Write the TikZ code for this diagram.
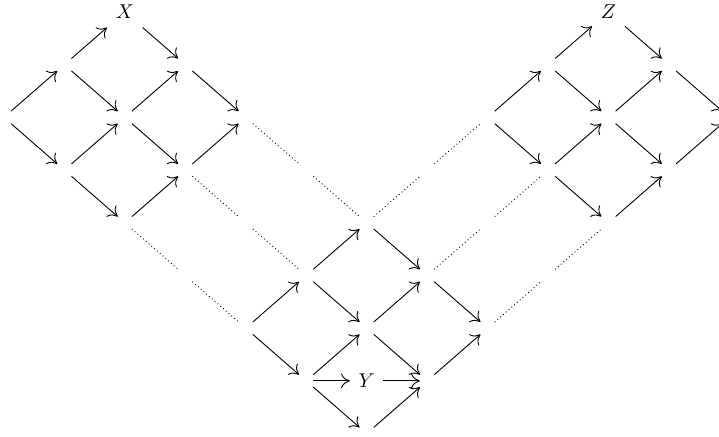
\documentclass[tikz,border=0pt]{standalone}
\usepackage{tikz}
\usetikzlibrary{arrows.meta, calc}

\begin{document}
\begin{tikzpicture}[
    x=0.5pt, y=-0.5pt,
    cell/.style={inner xsep=3.4pt, inner ysep=2.9pt, minimum size=0pt},
    obj/.style={inner xsep=4.2pt, inner ysep=4.3pt},
    panah/.style={line width=0.45pt, -{Computer Modern Rightarrow[length=4.4pt, width=7.4pt]}},
    titik/.style={line width=0.45pt, dash pattern=on 0.45pt off 1.4pt}
  ]
    \useasboundingbox (0,0) rectangle (719,437);
    % grid of empty cells
    \foreach \r in {0,...,8}{
      \foreach \c in {0,...,12}{
        \pgfmathtruncatemacro\s{\r+\c}
        \ifodd\s\else
          \node[cell] (n\r-\c) at ({3.9+60.46*\c},{12+52.7*\r}) {};
        \fi
      }
    }
    \node[obj] (X) at (n0-2) {$X$};
    \node[obj] (Z) at (n0-10) {$Z$};
    \node[obj] (Y) at ($(n7-5)!0.5!(n7-7)$) {$Y$};
    % left part
    \foreach \a/\b in {n2-0/n1-1, n2-0/n3-1, n1-1/X, n1-1/n2-2, n3-1/n2-2, n3-1/n4-2,
                       X/n1-3, n2-2/n1-3, n2-2/n3-3, n4-2/n3-3, n1-3/n2-4, n3-3/n2-4}
      \draw[panah] (\a) -- (\b);
    % bottom part
    \foreach \a/\b in {n5-5/n4-6, n4-6/n5-7, n6-4/n5-5, n5-5/n6-6, n6-6/n5-7, n5-7/n6-8,
                       n6-4/n7-5, n7-5/n6-6, n6-6/n7-7, n7-7/n6-8, n7-5/Y, Y/n7-7,
                       n7-5/n8-6, n8-6/n7-7}
      \draw[panah] (\a) -- (\b);
    % right part
    \foreach \a/\b in {n2-8/n1-9, n2-8/n3-9, n1-9/Z, n1-9/n2-10, n3-9/n2-10, n3-9/n4-10,
                       Z/n1-11, n2-10/n1-11, n2-10/n3-11, n4-10/n3-11, n1-11/n2-12, n3-11/n2-12}
      \draw[panah] (\a) -- (\b);
    % dots
    \foreach \a/\b in {n3-3/n4-4, n4-4/n5-5, n2-4/n3-5, n3-5/n4-6, n4-2/n5-3, n5-3/n6-4,
                       n4-6/n3-7, n3-7/n2-8, n5-7/n4-8, n4-8/n3-9, n6-8/n5-9, n5-9/n4-10}
      \draw[titik] (\a) -- (\b);
\end{tikzpicture}
\end{document}
